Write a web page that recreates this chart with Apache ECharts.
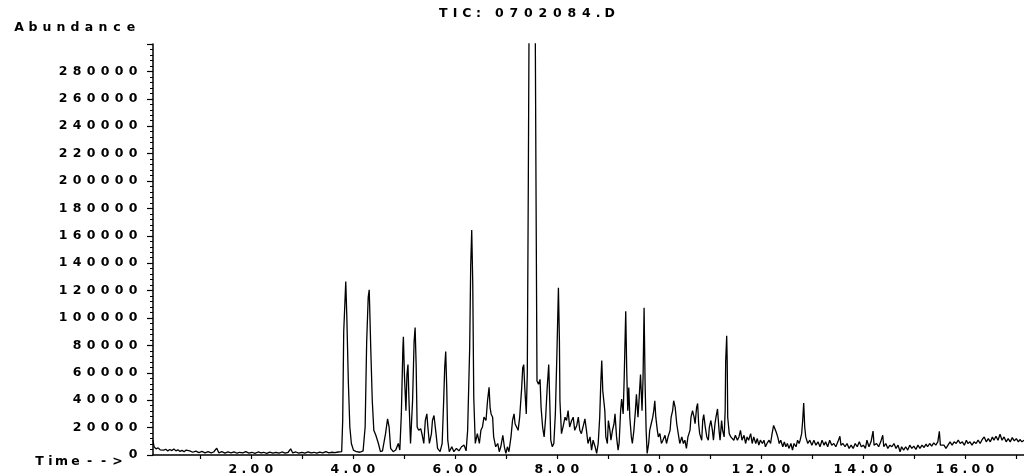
<!DOCTYPE html>
<html>
<head>
<meta charset="utf-8">
<script src="https://cdn.jsdelivr.net/npm/echarts@6/dist/echarts.min.js"></script>
<style>
  html, body { margin: 0; padding: 0; background: #fff; }
  #chart { width: 1024px; height: 476px; }
</style>
</head>
<body>
<div id="chart"></div>
<script>
// Total ion chromatogram, [retention time (min), abundance]
const baselineStart = [
  [0.08,10800],[0.10,6000],[0.14,4500],[0.18,5200],[0.22,3800],[0.25,4600],[0.29,3500],[0.33,4200],
  [0.37,3000],[0.41,4000],[0.45,3200],[0.49,4400],[0.53,3000],[0.57,3800],[0.61,2600],[0.65,3400],
  [0.69,2400],[0.73,3600],[0.76,2200],[0.80,3000],[0.86,2000],[0.92,2800],[0.98,1800],[1.04,2600],
  [1.10,1600],[1.16,2400],[1.22,1500],[1.27,2200],[1.33,5000],[1.37,1600],[1.43,2400],[1.49,1400],
  [1.55,2200],[1.61,1600],[1.67,2300],[1.73,1300],[1.78,2000],[1.84,1500],[1.90,2400],[1.96,1400],
  [2.02,2000],[2.08,1200],[2.14,2200],[2.20,1500],[2.25,2000],[2.31,1200],[2.37,2100],[2.43,1400],
  [2.49,1900],[2.55,1300],[2.61,2200],[2.67,1400],[2.73,2000],[2.78,4500],[2.82,1500],[2.88,2200],
  [2.94,1300],[3.00,2000],[3.06,1400],[3.12,2300],[3.18,1500],[3.24,2000],[3.29,1300],[3.35,2100],
  [3.41,1500],[3.47,2400],[3.53,1600],[3.59,2000],[3.65,1800],[3.71,2200]
];

const earlyPeaks = [
  [3.78,2400],[3.80,25200],[3.82,89900],[3.86,126600],[3.88,102000],[3.91,54000],[3.94,20400],
  [3.97,8400],[4.01,3600],[4.07,2400],[4.14,2000],[4.20,3000],[4.24,20400],[4.27,82700],[4.30,115000],
  [4.32,120600],[4.33,106800],[4.35,78000],[4.38,39600],[4.41,18000],[4.45,14400],[4.50,8400],
  [4.54,2400],[4.58,3000],[4.64,15600],[4.68,26400],[4.71,20400],[4.74,4800],[4.79,2400],[4.84,3600],
  [4.89,8400],[4.92,3600]
];

const middlePeaks = [
  [4.95,30000],[4.98,78000],[4.99,86300],[5.01,58800],[5.04,32400],[5.06,58800],[5.08,66000],
  [5.10,39600],[5.13,8400],[5.17,39600],[5.20,82700],[5.22,93100],[5.24,66000],[5.26,20400],
  [5.29,18000],[5.33,19200],[5.36,14400],[5.39,8400],[5.42,25200],[5.45,30000],[5.47,20400],
  [5.50,8400],[5.54,15600],[5.56,25200],[5.59,28800],[5.63,15600],[5.66,4800],[5.71,2400],
  [5.75,8400],[5.78,39600],[5.80,63600],[5.82,75500],[5.84,49200],[5.86,10800],[5.89,2400],
  [5.94,6000],[5.98,2400],[6.03,4800],[6.08,3000],[6.13,6000],[6.18,7200],[6.22,3000],[6.25,18000],
  [6.29,78000],[6.31,137900],[6.33,164300],[6.35,125900],[6.37,42000],[6.40,8400],[6.44,15600],
  [6.48,8400],[6.51,18000],[6.54,20400],[6.57,27600],[6.61,25200],[6.64,39600],[6.67,49400],
  [6.69,34800],[6.71,30000],[6.74,27600],[6.76,13200],[6.80,6000],[6.84,8400],[6.87,2400],
  [6.90,6000],[6.94,14400],[6.97,6000],[7.00,1200],[7.03,6000],[7.06,2400],[7.10,13200],
  [7.13,25200],[7.16,30000],[7.18,22800],[7.21,24000],[7.24,18000],[7.27,27600],[7.31,49200],
  [7.33,63600],[7.35,66000],[7.37,49200],[7.40,30000],[7.42,60000],[7.44,200000],[7.46,360000],
  [7.51,520000],[7.57,360000],[7.59,200000],[7.61,54000],[7.64,51600],[7.67,55200],[7.69,34800],
  [7.72,20400],[7.75,13200],[7.78,27600],[7.81,49200],[7.84,66000],[7.86,39600],[7.88,10800],
  [7.91,6000],[7.94,8400],[7.97,30000],[8.00,73200],[8.03,122100],[8.05,82700],[8.06,39600],
  [8.09,15600],[8.12,20400],[8.16,27600],[8.19,25200],[8.22,32400],[8.25,20400],[8.29,25200],
  [8.32,27600],[8.35,18000],[8.39,21600],[8.42,27600]
];

const latePeaks = [
  [8.45,18000],[8.48,15600],[8.52,21600],[8.55,26400],[8.58,18000],[8.61,8400],[8.65,13200],
  [8.68,3600],[8.71,10800],[8.75,6000],[8.78,1200],[8.81,8400],[8.84,27600],[8.86,51600],
  [8.88,69000],[8.90,46800],[8.92,39600],[8.94,32400],[8.96,13200],[8.99,8400],[9.01,25200],
  [9.04,18000],[9.06,10800],[9.09,18000],[9.12,22800],[9.14,30000],[9.17,13200],[9.20,3600],
  [9.22,8400],[9.25,32400],[9.27,40800],[9.30,30000],[9.32,56400],[9.35,105000],[9.37,61200],
  [9.39,32400],[9.41,49200],[9.43,27600],[9.46,13200],[9.48,8400],[9.51,18000],[9.54,32400],
  [9.56,44400],[9.59,27600],[9.61,39600],[9.64,58800],[9.67,32400],[9.69,56400],[9.71,107500],
  [9.73,51600],[9.75,18000],[9.77,1200],[9.80,8400],[9.82,18000],[9.85,22800],[9.88,27600],
  [9.90,32400],[9.92,39600],[9.94,27600],[9.97,18000],[9.99,13200],[10.02,15600],[10.05,8400],
  [10.08,10800],[10.12,14400],[10.15,8400],[10.18,13200],[10.22,18000],[10.24,27600],[10.27,32400],
  [10.29,39600],[10.32,34800],[10.35,22800],[10.38,15600],[10.41,8400],[10.45,13200],[10.48,8400],
  [10.51,10800],[10.54,4800],[10.57,13200],[10.61,18000],[10.63,27600],[10.66,32400],[10.69,27600],
  [10.71,22800],[10.74,34800],[10.76,37600],[10.78,22800],[10.80,15600],[10.84,10800],[10.86,25200],
  [10.88,29500],[10.91,20400],[10.94,13200],[10.97,10800],[10.99,20400],[11.02,25200],[11.05,18000],
  [11.07,10800],[11.10,22800],[11.12,27600],[11.15,33600],[11.18,18000],[11.20,10800],[11.23,25200],
  [11.25,18000],[11.28,13200],[11.30,32400],[11.31,68300],[11.33,87000],[11.34,68300],[11.35,27600],
  [11.38,15600],[11.41,13200],[11.44,14400],[11.47,10800],[11.50,14400],[11.54,10800],[11.57,13200],
  [11.60,18000],[11.63,10800],[11.67,14400],[11.70,8400],[11.73,13200],[11.76,10800],[11.80,15600],
  [11.83,8400],[11.86,13200],[11.90,8400],[11.93,12000],[11.96,7200],[11.99,10800],[12.03,8400],
  [12.06,10800],[12.09,6000],[12.12,8400],[12.16,10800],[12.19,8400],[12.22,15600],[12.25,21600],
  [12.27,20400],[12.30,16800],[12.33,13200],[12.36,8400],[12.39,10800],[12.43,6000],[12.46,9600],
  [12.49,6000],[12.52,8400],[12.55,4800],[12.59,8400],[12.62,3600],[12.65,8400],[12.69,6000],
  [12.72,10800],[12.75,8400]
];

const baselineEnd = [
  [12.77,10800],[12.80,15600],[12.82,25200],[12.84,37900],[12.86,20400],[12.88,13200],[12.92,8400],
  [12.96,10800],[13.00,7200],[13.04,10800],[13.08,7200],[13.12,9600],[13.16,6000],[13.20,10800],
  [13.24,7200],[13.27,9600],[13.31,6000],[13.35,10800],[13.39,7200],[13.43,8400],[13.47,6000],
  [13.51,9600],[13.55,13700],[13.57,7200],[13.61,8400],[13.65,6000],[13.69,8400],[13.73,4800],
  [13.77,7200],[13.81,4800],[13.85,8400],[13.89,6000],[13.93,9600],[13.97,6000],[14.01,7200],
  [14.05,4800],[14.08,10800],[14.12,6000],[14.16,9600],[14.20,17500],[14.22,7200],[14.27,8400],
  [14.31,6000],[14.35,9600],[14.39,14400],[14.41,6000],[14.45,8400],[14.49,4800],[14.53,7200],
  [14.57,6000],[14.61,8400],[14.65,4800],[14.69,7200],[14.73,2400],[14.76,6000],[14.80,3600],
  [14.84,6000],[14.88,3600],[14.92,7200],[14.96,4800],[15.00,6500],[15.04,4000],[15.08,7200],
  [15.12,4800],[15.16,7200],[15.20,5500],[15.24,7900],[15.27,6000],[15.31,8400],[15.35,6500],
  [15.39,8900],[15.43,7200],[15.47,9600],[15.50,17300],[15.52,7200],[15.55,8400],[15.59,7200],
  [15.63,4800],[15.67,7200],[15.71,9600],[15.75,7200],[15.79,9600],[15.83,8400],[15.87,10800],
  [15.91,8400],[15.95,9600],[15.99,7200],[16.03,10800],[16.06,8400],[16.10,9600],[16.14,7200],
  [16.18,9600],[16.22,8400],[16.26,10800],[16.30,8400],[16.34,11300],[16.38,13200],[16.42,9600],
  [16.46,12000],[16.50,9600],[16.54,13200],[16.57,10800],[16.61,13700],[16.65,10800],[16.69,15100],
  [16.73,10800],[16.77,13200],[16.81,9600],[16.85,12000],[16.89,9600],[16.93,12700],[16.97,10300],
  [17.01,12000],[17.05,9600],[17.08,11300],[17.12,9600],[17.16,10800]
];

const timeLabels = [2, 4, 6, 8, 10, 12, 14, 16];
const timeTicks = [1, 2, 3, 4, 5, 6, 7, 8, 9, 10, 11, 12, 13, 14, 15, 16, 17];
const abundanceLabels = [0, 20000, 40000, 60000, 80000, 100000, 120000, 140000,
  160000, 180000, 200000, 220000, 240000, 260000, 280000];

const chromatogram = [].concat(baselineStart, earlyPeaks, middlePeaks, latePeaks, baselineEnd);

// Wide instrument-style lettering: every glyph gets its own fixed-width cell
const FONT = { fontFamily: 'DejaVu Sans', fontWeight: 'bold', fontSize: 12.5, color: '#000' };
function cells(wide, narrow) {
  return {
    w: Object.assign({ width: wide, align: 'center' }, FONT),
    n: Object.assign({ width: narrow, align: 'center' }, FONT)
  };
}
const wideRich = cells(14, 8);
const titleRich = cells(14.5, 9);
const NARROW = '.: iI';
function widen(str) {
  return String(str).split('').map(function (ch) {
    return '{' + (NARROW.indexOf(ch) >= 0 ? 'n' : 'w') + '|' + ch + '}';
  }).join('');
}

const chart = echarts.init(document.getElementById('chart'), null, { renderer: 'canvas' });
chart.setOption({
  animation: false,
  backgroundColor: '#fff',
  title: {
    text: widen('TIC: 0702084.D'),
    left: 436, top: 7, padding: 0,
    textStyle: { rich: titleRich }
  },
  grid: { left: 153, right: 0, top: 44, bottom: 14, containLabel: false },
  xAxis: {
    type: 'value', min: 0.08, max: 17.16,
    axisLine: { onZero: false, lineStyle: { color: '#000', width: 1.5 } },
    axisTick: { customValues: timeTicks, length: 4, lineStyle: { color: '#000', width: 1.2 } },
    axisLabel: {
      customValues: timeLabels, margin: 8,
      formatter: function (v) { return widen(v.toFixed(2)); },
      rich: wideRich
    },
    splitLine: { show: false },
    name: widen('Time-->'), nameLocation: 'start', nameGap: 22,
    nameTextStyle: { rich: wideRich, verticalAlign: 'top', padding: [0, 0, 0, 0] }
  },
  yAxis: {
    type: 'value', min: 0, max: 300000, interval: 20000,
    axisLine: { show: true, lineStyle: { color: '#000', width: 1.5 } },
    axisTick: { show: true, length: 6, lineStyle: { color: '#000', width: 1.2 } },
    minorTick: { show: true, splitNumber: 5, length: 3, lineStyle: { color: '#000', width: 1 } },
    splitLine: { show: false },
    axisLabel: {
      customValues: abundanceLabels, margin: 13,
      formatter: function (v) { return widen(v); },
      rich: wideRich
    },
    name: widen('Abundance'), nameLocation: 'end', nameGap: 10,
    nameTextStyle: { align: 'right', rich: wideRich, padding: [0, 15, 0, 0] }
  },
  series: [{
    type: 'line',
    data: chromatogram,
    showSymbol: false,
    clip: true,
    lineStyle: { color: '#000', width: 1.3 },
    silent: true
  }]
});
</script>
</body>
</html>
